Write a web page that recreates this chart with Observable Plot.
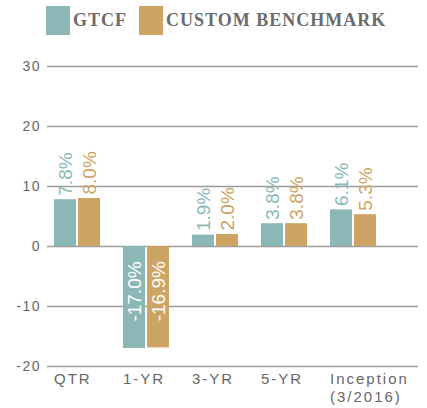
<!DOCTYPE html>
<html>
<head>
<meta charset="utf-8">
<script src="https://cdn.jsdelivr.net/npm/d3@7"></script>
<script src="https://cdn.jsdelivr.net/npm/@observablehq/plot@0.6"></script>
<style>
  html, body { margin: 0; padding: 0; background: #fff; }
  #wrap { width: 427px; }
  .legend { position: relative; height: 44px; font-family: "Liberation Serif", "DejaVu Serif", serif; font-weight: bold; font-size: 18px; letter-spacing: 1px; color: #6b6b6b; }
  .sw { position: absolute; top: 6px; width: 24px; height: 29px; }
  .lt { position: absolute; top: 10px; line-height: 20px; white-space: nowrap; }
</style>
</head>
<body>
<div id="wrap">
  <div class="legend" id="legend"></div>
  <div id="chart"></div>
</div>
<script>
const categories = ["QTR", "1-YR", "3-YR", "5-YR", "Inception\n(3/2016)"];
const seriesNames = ["GTCF", "CUSTOM BENCHMARK"];
const gtcf = [7.8, -17.0, 1.9, 3.8, 6.1];
const benchmark = [8.0, -16.9, 2.0, 3.8, 5.3];
const yTicks = [-20, -10, 0, 10, 20, 30];
const colors = ["#8bb8b7", "#cda463"];

// legend
const legend = document.getElementById("legend");
const legendPos = [[46, 73], [139, 166]];
seriesNames.forEach((name, i) => {
  const sw = document.createElement("div");
  sw.className = "sw";
  sw.style.left = legendPos[i][0] + "px";
  sw.style.background = colors[i];
  legend.appendChild(sw);
  const t = document.createElement("div");
  t.className = "lt";
  t.style.left = legendPos[i][1] + "px";
  t.textContent = name;
  legend.appendChild(t);
});

const rows = [];
categories.forEach((c, i) => {
  rows.push({cat: c, series: seriesNames[0], value: gtcf[i]});
  rows.push({cat: c, series: seriesNames[1], value: benchmark[i]});
});
const A = rows.filter(d => d.series === seriesNames[0]);
const B = rows.filter(d => d.series === seriesNames[1]);
const fmt = v => v.toFixed(1) + "%";
const labelFont = {fontFamily: "Liberation Sans, Arial, sans-serif", fontSize: 19, rotate: -90};

const plot = Plot.plot({
  width: 427,
  height: 364,
  marginTop: 22,
  marginBottom: 42,
  marginLeft: 47,
  marginRight: 9,
  style: {fontFamily: "Liberation Sans, Arial, sans-serif", background: "#fff"},
  x: {domain: categories, range: [29, 401], padding: 0.327, label: null},
  y: {domain: [-20, 30], label: null},
  marks: [
    Plot.ruleY(yTicks, {stroke: "#9c9c9c", strokeWidth: 1.3}),
    Plot.barY(A, {x: "cat", y: "value", fill: colors[0], insetRight: 24, insetLeft: 0}),
    Plot.barY(B, {x: "cat", y: "value", fill: colors[1], insetLeft: 24, insetRight: 0}),
    Plot.text(A.filter(d => d.value >= 0), {x: "cat", y: "value", text: d => fmt(d.value), fill: colors[0], dx: -12, dy: -4, textAnchor: "start", ...labelFont}),
    Plot.text(B.filter(d => d.value >= 0), {x: "cat", y: "value", text: d => fmt(d.value), fill: colors[1], dx: 12, dy: -4, textAnchor: "start", ...labelFont}),
    Plot.text(A.filter(d => d.value < 0), {x: "cat", y: d => d.value / 2, text: d => fmt(d.value), fill: "#fff", dx: -12, dy: -6, textAnchor: "middle", ...labelFont}),
    Plot.text(B.filter(d => d.value < 0), {x: "cat", y: d => d.value / 2, text: d => fmt(d.value), fill: "#fff", dx: 12, dy: -6, textAnchor: "middle", ...labelFont}),
    Plot.axisY({ticks: yTicks, tickSize: 0, tickPadding: 6.5, fontSize: 14, fill: "#666", label: null, tickFormat: d => String(d)}),
    Plot.axisX({tickSize: 0, tickPadding: 5, fontSize: 15, fill: "#666", label: null, textAnchor: "start", dx: -23.5, lineHeight: 1.2})
  ]
});
d3.select(plot).selectAll("g[aria-label='y-axis tick label']").style("letter-spacing", "1.5px");
d3.select(plot).selectAll("g[aria-label='x-axis tick label']").style("letter-spacing", "2px");
document.getElementById("chart").appendChild(plot);
</script>
</body>
</html>
